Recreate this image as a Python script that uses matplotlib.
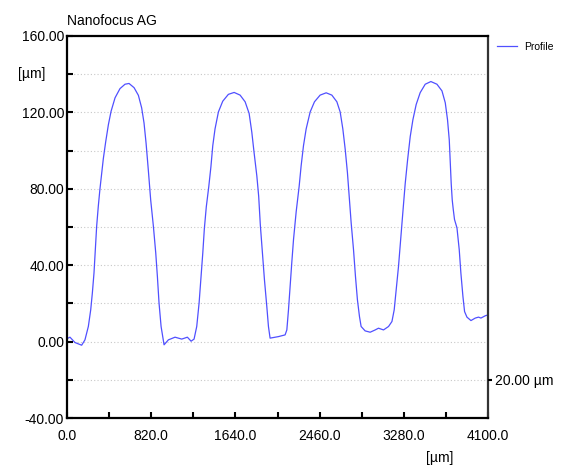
import numpy as np
import matplotlib.pyplot as plt
from matplotlib.ticker import MultipleLocator, FormatStrFormatter

plt.rcParams['font.family'] = ['Liberation Sans', 'DejaVu Sans']

# profile (x in um, height in um)
X_UM = [0, 29, 78, 110, 143, 175, 208, 231, 247, 263, 276, 289, 305, 321,
        338, 354, 377, 403, 429, 468, 516, 565, 604, 653, 695, 727, 750,
        770, 792, 815, 841, 864, 880, 896, 916, 945, 987, 1052, 1117, 1172,
        1208, 1237, 1263, 1286, 1305, 1322, 1337, 1356, 1380, 1401, 1419,
        1441, 1474, 1516, 1571, 1627, 1685, 1734, 1773, 1799, 1821, 1848,
        1866, 1882, 1902, 1922, 1945, 1961, 1977, 2058, 2123, 2140, 2156,
        2172, 2188, 2205, 2231, 2260, 2279, 2302, 2328, 2367, 2409, 2464,
        2523, 2578, 2627, 2659, 2685, 2708, 2730, 2752, 2766, 2789, 2808,
        2827, 2847, 2863, 2902, 2951, 3000, 3032, 3081, 3130, 3163, 3185,
        3204, 3227, 3250, 3272, 3292, 3315, 3341, 3367, 3399, 3438, 3487,
        3542, 3601, 3650, 3682, 3704, 3721, 3730, 3740, 3750, 3760, 3772,
        3796, 3818, 3834, 3854, 3870, 3893, 3932, 3974, 4006, 4029, 4071,
        4100]
Z_UM = [1.5, 2.3, -0.5, -1.2, -1.9, 0.9, 7.9, 16.6, 25.4, 35.9, 48.1, 60.4,
        70.9, 79.9, 87.9, 95.8, 104.6, 113.5, 120.5, 127.6, 132.4, 134.7,
        135.1, 132.9, 128.9, 122.3, 114.4, 103.8, 89.6, 74.0, 60.4, 46.4,
        34.1, 20.2, 7.9, -1.7, 0.9, 2.3, 1.3, 2.3, 0.2, 1.3, 7.9, 20.2, 34.1,
        46.4, 59.0, 70.5, 81.0, 91.5, 102.5, 111.3, 120.2, 125.8, 129.4,
        130.4, 129.0, 125.5, 119.4, 109.6, 99.0, 86.7, 76.0, 61.0, 46.4,
        32.4, 18.4, 7.9, 1.8, 2.6, 3.5, 6.1, 16.6, 28.9, 41.2, 53.4, 68.0,
        81.3, 91.9, 102.5, 111.3, 120.2, 125.5, 129.0, 130.2, 129.0, 125.5,
        120.2, 111.3, 100.7, 88.3, 72.5, 62.2, 48.1, 34.1, 21.9, 13.1, 7.9,
        5.6, 4.9, 6.1, 7.0, 6.1, 7.9, 10.5, 16.6, 27.1, 39.4, 55.1, 69.5,
        82.6, 94.9, 107.3, 116.1, 124.1, 130.3, 134.7, 136.1, 134.7, 131.2,
        125.0, 116.1, 105.5, 94.9, 82.6, 74.0, 69.1, 63.9, 59.5, 48.1, 35.9,
        23.6, 15.7, 12.8, 11.0, 12.3, 12.8, 12.3, 13.5, 14.0]

X_TICKS = [0, 820, 1640, 2460, 3280, 4100]
Y_TICKS = [-40, 0, 40, 80, 120, 160]

fig = plt.figure(figsize=(5.70, 4.66), dpi=100)
ax = fig.add_axes([0.1175, 0.103, 0.739, 0.82])

ax.plot(X_UM, Z_UM, color='#5050ff', lw=0.9, label='Profile')

ax.set_xlim(0, 4100)
ax.set_ylim(-40, 160)
ax.set_xticks(X_TICKS)
ax.set_yticks(Y_TICKS)
ax.xaxis.set_minor_locator(MultipleLocator(410))
ax.yaxis.set_minor_locator(MultipleLocator(20))
ax.xaxis.set_major_formatter(FormatStrFormatter('%.1f'))
ax.yaxis.set_major_formatter(FormatStrFormatter('%.2f'))
ax.tick_params(which='both', direction='in', length=4, width=1.5,
               labelsize=10, colors='black')
ax.tick_params(axis='x', which='major', pad=8)
ax.tick_params(axis='y', which='major', pad=2)
ax.yaxis.grid(True, which='both', linestyle=(0, (1, 2)), color='#c8c8c8',
              lw=0.8)
ax.set_axisbelow(True)
for name, sp in ax.spines.items():
    sp.set_linewidth(1.6)
    sp.set_color('black' if name != 'right' else '#333333')

# right-hand scale marker
ax2 = ax.twinx()
ax2.set_ylim(-40, 160)
ax2.set_yticks([-20])
ax2.set_yticklabels(['20.00 µm'])
ax2.tick_params(axis='y', direction='out', length=3, width=1.5,
                labelsize=10, pad=2)
for sp in ax2.spines.values():
    sp.set_visible(False)

ax.text(0.0, 1.02, 'Nanofocus AG', transform=ax.transAxes, fontsize=10,
        ha='left', va='bottom')
ax.text(-0.083, 140, '[µm]', transform=ax.get_yaxis_transform(),
        fontsize=10, ha='center', va='center')
ax.text(0.886, -0.105, '[µm]', transform=ax.transAxes, fontsize=10,
        ha='center', va='center')

ax.legend(loc='upper left', bbox_to_anchor=(1.005, 1.0), frameon=False,
          fontsize=7.5, handlelength=2.0, handletextpad=0.6,
          borderaxespad=0.2)

fig.savefig('out.png', dpi=100)
